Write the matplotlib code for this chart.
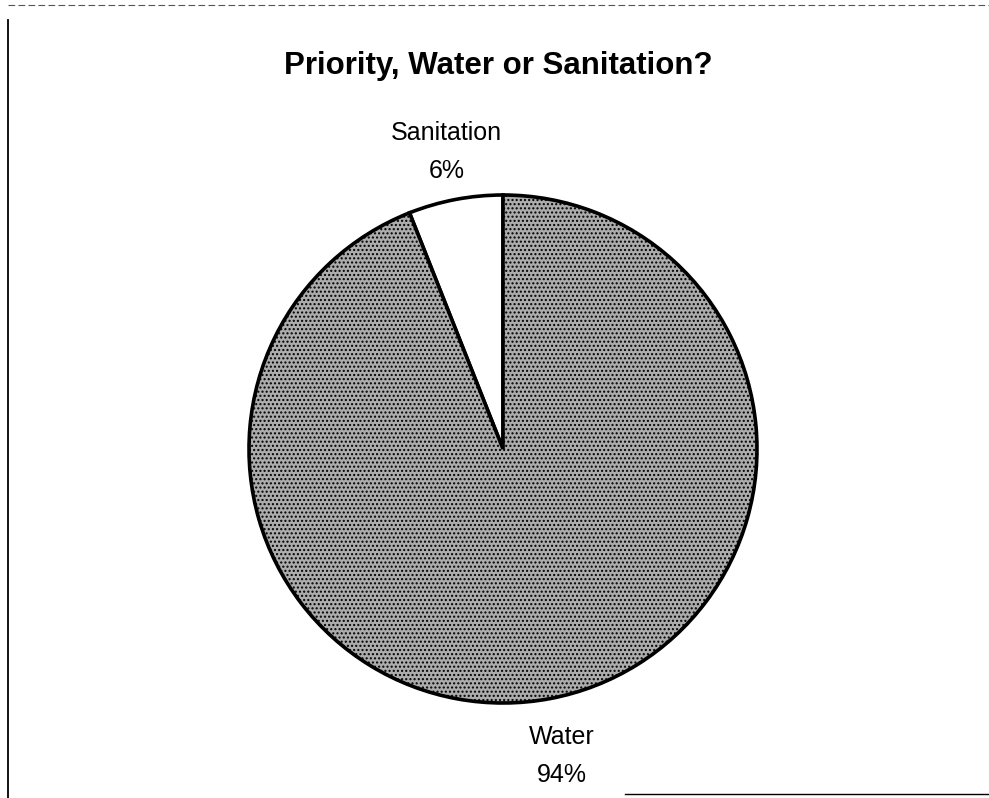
import matplotlib
matplotlib.use("Agg")
import matplotlib.pyplot as plt
from matplotlib.lines import Line2D

title = "Priority, Water or Sanitation?"
categories = ["Sanitation", "Water"]
values = [6, 94]
pct_labels = ["6%", "94%"]

plt.rcParams['font.family'] = ['Liberation Sans', 'DejaVu Sans']

W, H = 989, 798
fig = plt.figure(figsize=(W / 100, H / 100), dpi=100)
fig.patch.set_facecolor('white')

# pie centre (503, 449) px, radius 254 px
cx, cy, r = 503, 449, 254
half = 1.3 * r
ax = fig.add_axes([(cx - half) / W, (H - cy - half) / H, 2 * half / W, 2 * half / H])

labels = [f"{c}\n{p}" for c, p in zip(categories, pct_labels)]
wedges, texts = ax.pie(values, labels=labels, startangle=90, counterclock=True,
                       colors=['white', '#acacac'], radius=1.0, labeldistance=1.19,
                       wedgeprops=dict(edgecolor='black', linewidth=2.6),
                       textprops=dict(fontsize=18, ha='center', va='center',
                                      linespacing=1.75, color='black'))
wedges[1].set_hatch('....')
for t in texts:
    t.set_horizontalalignment('center')
# the lower label sits slightly further out in the original
x1, y1 = texts[1].get_position()
texts[1].set_position((x1 * 1.035, y1 * 1.035))
ax.set_xlim(-1.3, 1.3)
ax.set_ylim(-1.3, 1.3)
ax.set_aspect('equal')
ax.axis('off')

fig.text(498 / W, 1 - 66 / H, title, ha='center', va='center',
         fontsize=22.5, fontweight='bold', color='black')

# scanned frame lines
fig.add_artist(Line2D([8 / W, 8 / W], [0, 1 - 20 / H], color='black', lw=1.3))
fig.add_artist(Line2D([8 / W, 1], [1 - 5 / H, 1 - 5 / H], color='#555555', lw=0.8, ls=(0, (6, 3))))
fig.add_artist(Line2D([625 / W, 1], [4 / H, 4 / H], color='black', lw=1.0))

fig.savefig('out.png', dpi=100, facecolor='white')
